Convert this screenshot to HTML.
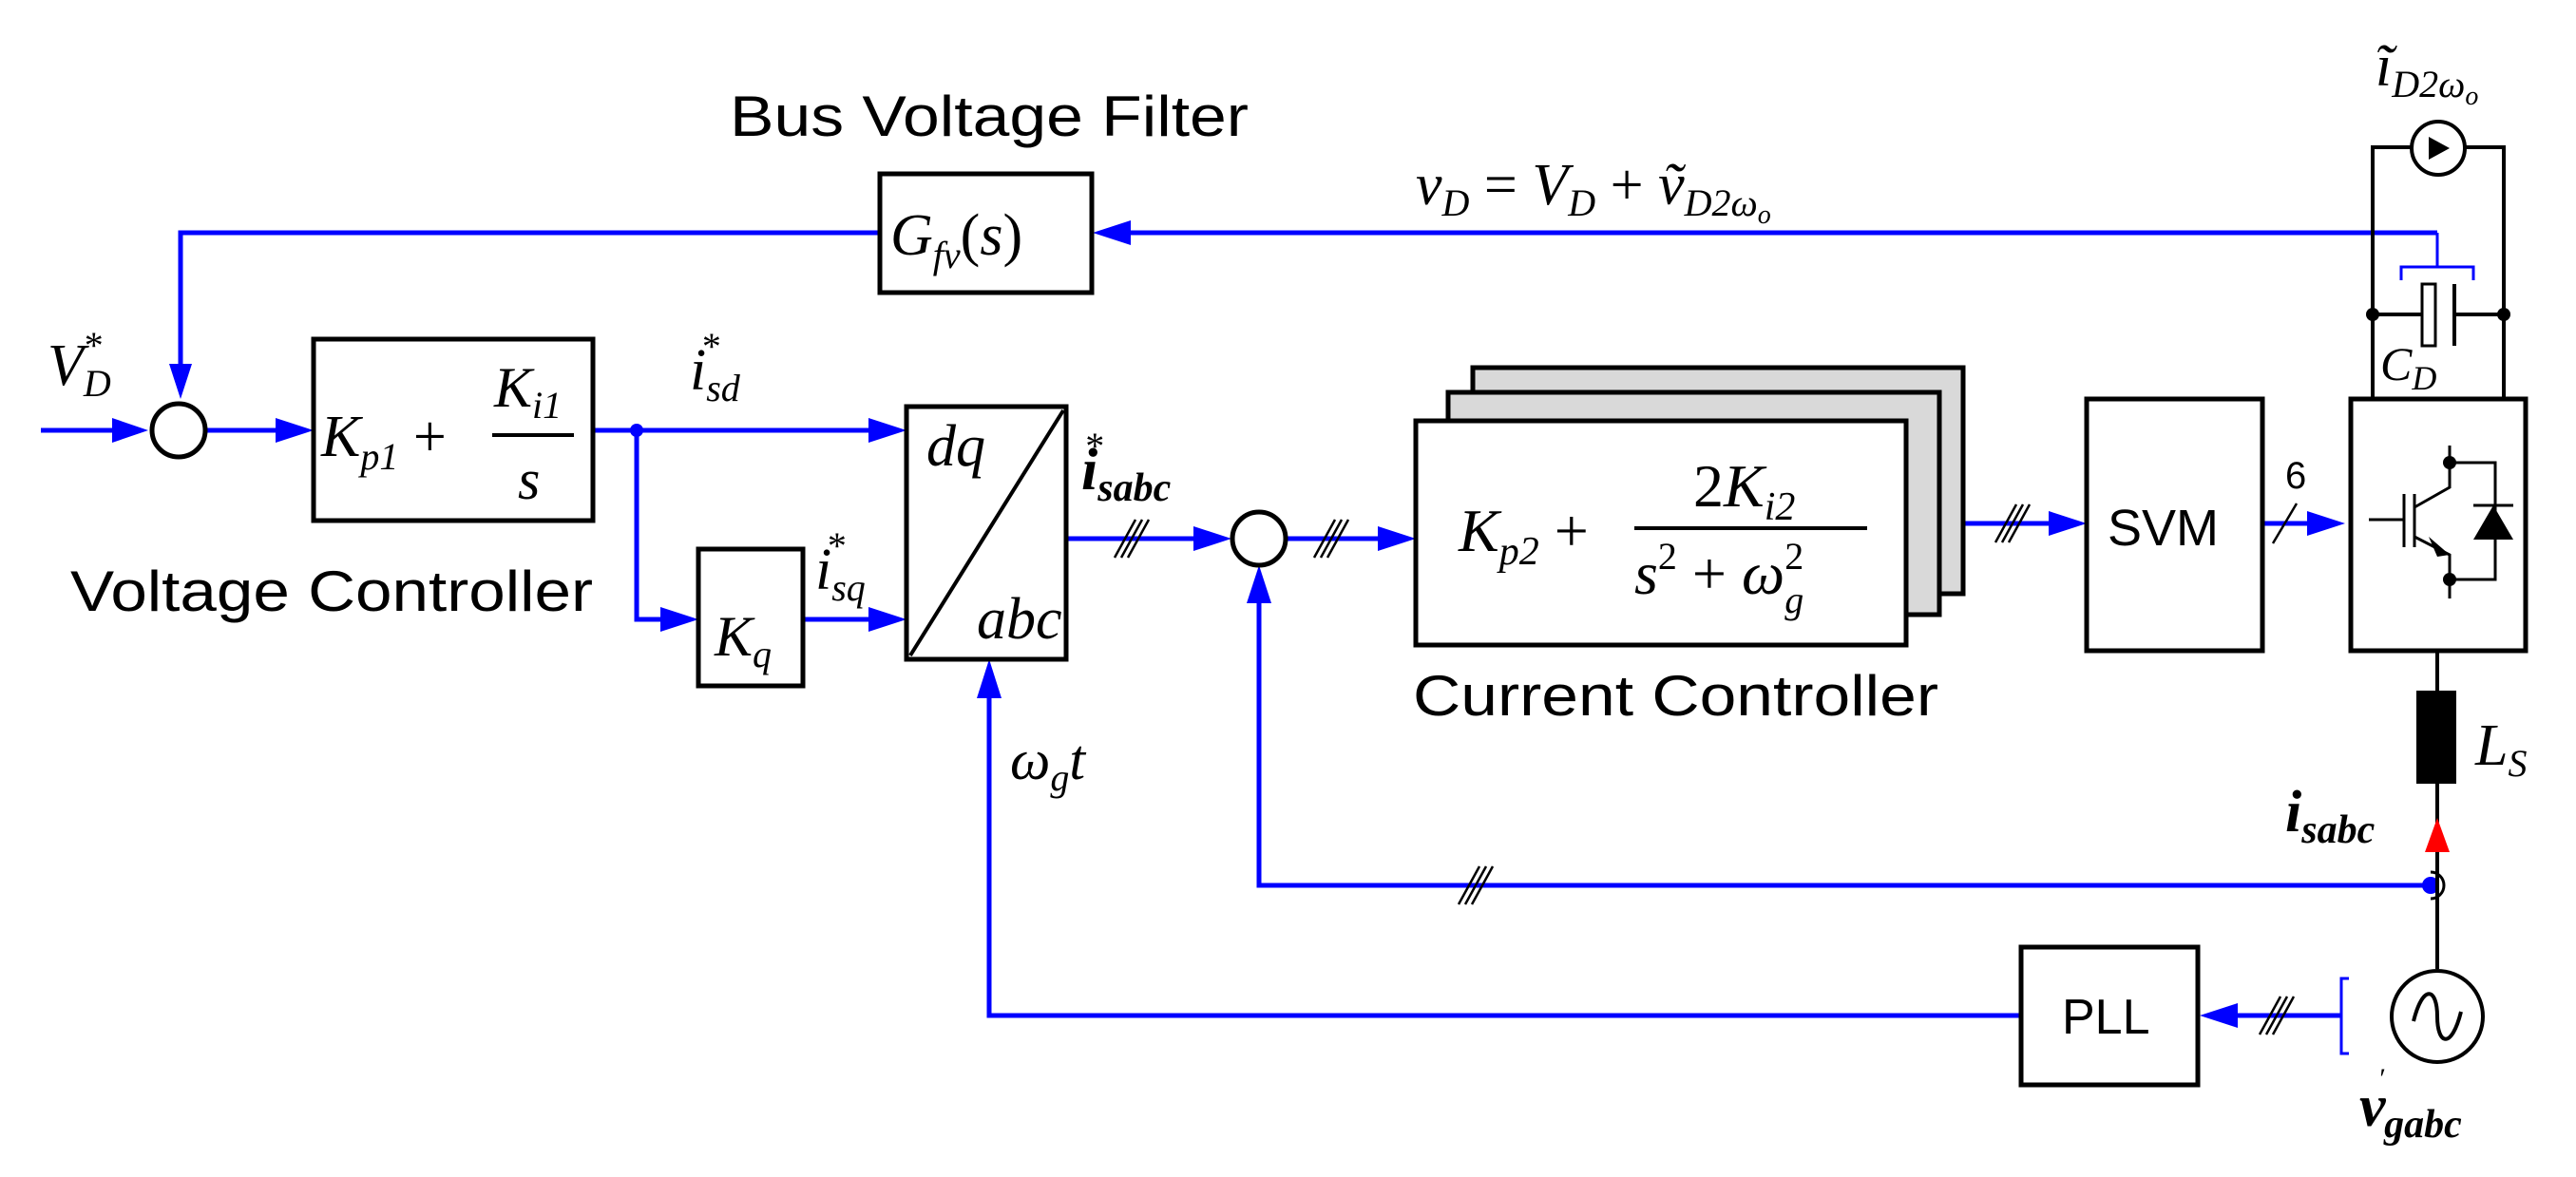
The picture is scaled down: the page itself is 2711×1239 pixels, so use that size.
<!DOCTYPE html>
<html><head><meta charset="utf-8"><style>
html,body{margin:0;padding:0;background:#fff;}
svg{display:block;}
.m{font-family:"Liberation Serif",serif;font-style:italic;fill:#000;}
.s{font-family:"Liberation Sans",sans-serif;fill:#000;}
</style></head><body>
<svg width="2711" height="1239" viewBox="0 0 2711 1239" xmlns="http://www.w3.org/2000/svg">
<defs>
<marker id="a" markerWidth="12" markerHeight="10" refX="11" refY="5" orient="auto" markerUnits="userSpaceOnUse" viewBox="0 0 12 10"></marker>
</defs>
<g fill="none" stroke="#00f" stroke-width="5">
<!-- feedback top -->
<polyline points="2565,245 1190,245"/>
<polyline points="926,245 190,245 190,385"/>
<polyline points="2527,295 2527,281 2603,281 2603,295" stroke-width="3"/>
<line x1="2565" y1="245" x2="2565" y2="281" stroke-width="3"/>
<!-- main -->
<line x1="43" y1="453" x2="120" y2="453"/>
<line x1="217" y1="453" x2="290" y2="453"/>
<line x1="624" y1="453" x2="915" y2="453"/>
<polyline points="670,453 670,652 695,652"/>
<line x1="845" y1="652" x2="915" y2="652"/>
<line x1="1122" y1="567" x2="1256" y2="567"/>
<line x1="1353" y1="567" x2="1450" y2="567"/>
<line x1="2006" y1="551" x2="2156" y2="551"/>
<line x1="2381" y1="551" x2="2430" y2="551"/>
<!-- isabc feedback -->
<polyline points="2558,932 1325,932 1325,635"/>
<!-- PLL -->
<polyline points="2464,1069 2355,1069"/>
<polyline points="2127,1069 1041,1069 1041,735"/>
<polyline points="2472,1030 2464,1030 2464,1109 2472,1109" stroke-width="3"/>
</g>
<g fill="#00f">
<polygon points="190,420 178,383 202,383"/>
<polygon points="156,453 118,440 118,466"/>
<polygon points="330,453 290,440 290,466"/>
<polygon points="954,453 914,440 914,466"/>
<polygon points="735,652 695,639 695,665"/>
<polygon points="954,652 914,639 914,665"/>
<polygon points="1296,567 1256,554 1256,580"/>
<polygon points="1490,567 1450,554 1450,580"/>
<polygon points="2196,551 2156,538 2156,564"/>
<polygon points="2468,551 2428,538 2428,564"/>
<polygon points="1150,245 1190,232 1190,258"/>
<polygon points="1325,595 1312,635 1338,635"/>
<polygon points="1041,694 1028,735 1054,735"/>
<polygon points="2315,1069 2355,1056 2355,1082"/>
<circle cx="670" cy="453" r="7"/>
<circle cx="2558" cy="932" r="9"/>
</g>
<!-- slashes -->
<g stroke="#000" stroke-width="2.5">
<line x1="1173" y1="587" x2="1195" y2="547"/><line x1="1180" y1="587" x2="1202" y2="547"/><line x1="1187" y1="587" x2="1209" y2="547"/>
<line x1="1383" y1="587" x2="1405" y2="547"/><line x1="1390" y1="587" x2="1412" y2="547"/><line x1="1397" y1="587" x2="1419" y2="547"/>
<line x1="2100" y1="571" x2="2122" y2="531"/><line x1="2107" y1="571" x2="2129" y2="531"/><line x1="2114" y1="571" x2="2136" y2="531"/>
<line x1="1535" y1="952" x2="1557" y2="912"/><line x1="1542" y1="952" x2="1564" y2="912"/><line x1="1549" y1="952" x2="1571" y2="912"/>
<line x1="2378" y1="1089" x2="2400" y2="1049"/><line x1="2385" y1="1089" x2="2407" y2="1049"/><line x1="2392" y1="1089" x2="2414" y2="1049"/>
<line x1="2392" y1="572" x2="2417" y2="530"/>
</g>
<!-- boxes -->
<g fill="#fff" stroke="#000" stroke-width="5">
<rect x="926" y="183" width="223" height="125"/>
<rect x="330" y="357" width="294" height="191"/>
<rect x="954" y="428" width="168" height="266"/>
<rect x="735" y="578" width="110" height="144"/>
<rect x="1550" y="387" width="516" height="238" fill="#d9d9d9"/>
<rect x="1524" y="413" width="517" height="234" fill="#d9d9d9"/>
<rect x="1490" y="443" width="516" height="236"/>
<rect x="2196" y="420" width="185" height="265"/>
<rect x="2474" y="420" width="184" height="265"/>
<rect x="2127" y="997" width="186" height="145"/>
<circle cx="188" cy="453" r="28"/>
<circle cx="1325" cy="567" r="28"/>
</g>
<line x1="958" y1="690" x2="1119" y2="432" stroke="#000" stroke-width="4"/>
<!-- circuit -->
<g fill="none" stroke="#000" stroke-width="4">
<polyline points="2497,420 2497,155 2635,155 2635,420"/>
<line x1="2497" y1="331" x2="2549" y2="331"/>
<line x1="2583" y1="331" x2="2635" y2="331"/>
<rect x="2549" y="299" width="14" height="65" stroke-width="3"/>
<line x1="2583" y1="299" x2="2583" y2="364"/>
<line x1="2565" y1="685" x2="2565" y2="1020"/>
<circle cx="2566" cy="156" r="28" fill="#fff"/>
<circle cx="2565" cy="1070" r="48" fill="#fff"/>
<path d="M2540,1075 C2550,1035 2565,1040 2565,1070 C2565,1100 2580,1105 2590,1065"/>
<path d="M2558,918 A14,14 0 0 1 2558,946" stroke-width="3"/>
<!-- igbt -->
<line x1="2493" y1="547" x2="2530" y2="547" stroke-width="3"/>
<line x1="2530" y1="520" x2="2530" y2="576" stroke-width="3"/>
<line x1="2541" y1="520" x2="2541" y2="576" stroke-width="3"/>
<polyline points="2541,534 2578,513 2578,469" stroke-width="3"/>
<polyline points="2541,565 2578,584 2578,630" stroke-width="3"/>
<polyline points="2578,487 2626,487 2626,610 2578,610" stroke-width="3"/>
<line x1="2603" y1="532" x2="2645" y2="532" stroke-width="3"/>
</g>
<g fill="#000">
<polygon points="2556,144 2556,168 2578,156"/>
<circle cx="2497" cy="331" r="7"/><circle cx="2635" cy="331" r="7"/>
<circle cx="2578" cy="487" r="7"/><circle cx="2578" cy="610" r="7"/>
<polygon points="2603,568 2645,568 2624,532"/>
<polygon points="2578,584 2556,565 2565,586"/>
<rect x="2543" y="727" width="42" height="98"/>
</g>
<polygon points="2565,861 2552,897 2578,897" fill="#f00"/>
<!-- text -->
<text class="s" x="768" y="143" font-size="60" textLength="546" lengthAdjust="spacingAndGlyphs">Bus Voltage Filter</text>
<text class="s" x="74" y="643" font-size="60" textLength="550" lengthAdjust="spacingAndGlyphs">Voltage Controller</text>
<text class="s" x="1487" y="753" font-size="60" textLength="553" lengthAdjust="spacingAndGlyphs">Current Controller</text>
<text class="s" x="2218" y="574" font-size="54">SVM</text>
<text class="s" x="2170" y="1088" font-size="52">PLL</text>
<text class="m" x="937" y="268" font-size="62">G<tspan font-size="40" dy="14">fv</tspan><tspan dy="-14" font-style="normal">(</tspan>s<tspan font-style="normal">)</tspan></text>
<text class="m" x="50" y="405" font-size="62">V<tspan font-size="40" dy="12">D</tspan><tspan font-size="40" dx="-28" dy="-40" font-style="normal">*</tspan></text>
<text class="m" x="338" y="480" font-size="62">K<tspan font-size="40" dy="14">p1</tspan><tspan dy="-14" font-style="normal"> + </tspan></text>
<text class="m" x="520" y="428" font-size="60">K<tspan font-size="40" dy="12">i1</tspan></text>
<line x1="518" y1="458" x2="604" y2="458" stroke="#000" stroke-width="4"/>
<text class="m" x="545" y="525" font-size="60">s</text>
<text class="m" x="726" y="410" font-size="62">i<tspan font-size="40" dy="12">sd</tspan><tspan font-size="40" dx="-40" dy="-44" font-style="normal">*</tspan></text>
<text class="m" x="858" y="620" font-size="62">i<tspan font-size="40" dy="12">sq</tspan><tspan font-size="40" dx="-40" dy="-44" font-style="normal">*</tspan></text>
<text class="m" x="752" y="690" font-size="60">K<tspan font-size="40" dy="12">q</tspan></text>
<text class="m" x="975" y="490" font-size="62">dq</text>
<text class="m" x="1028" y="672" font-size="62">abc</text>
<text class="m" x="1138" y="515" font-size="62" font-weight="bold">i<tspan font-size="42" dy="12">sabc</tspan><tspan font-size="40" dx="-90" dy="-44" font-weight="normal" font-style="normal">*</tspan></text>
<text class="m" x="1535" y="580" font-size="64">K<tspan font-size="42" dy="14">p2</tspan><tspan dy="-14" font-style="normal"> + </tspan></text>
<text class="m" x="1782" y="533" font-size="64"><tspan font-style="normal">2</tspan>K<tspan font-size="42" dy="14">i2</tspan></text>
<line x1="1720" y1="556" x2="1965" y2="556" stroke="#000" stroke-width="4"/>
<text class="m" x="1720" y="625" font-size="64">s<tspan font-size="40" dy="-26" font-style="normal">2</tspan><tspan dy="26" font-style="normal"> + </tspan>ω<tspan font-size="40" dy="-26" font-style="normal">2</tspan><tspan font-size="40" dx="-20" dy="46">g</tspan></text>
<text class="m" x="1490" y="215" font-size="62">v<tspan font-size="40" dy="12">D</tspan><tspan dy="-12" font-style="normal"> = </tspan>V<tspan font-size="40" dy="12">D</tspan><tspan dy="-12" font-style="normal"> + </tspan>ṽ<tspan font-size="40" dy="12">D2ω<tspan font-size="28" dy="8">o</tspan></tspan></text>
<text class="m" x="2500" y="90" font-size="62">ĩ<tspan font-size="40" dy="12">D2ω<tspan font-size="28" dy="8">o</tspan></tspan></text>
<text class="m" x="2505" y="400" font-size="50">C<tspan font-size="36" dy="10">D</tspan></text>
<text class="s" x="2405" y="514" font-size="40" font-family="Liberation Serif">6</text>
<text class="m" x="2605" y="805" font-size="62">L<tspan font-size="40" dy="12">S</tspan></text>
<text class="m" x="2405" y="875" font-size="62" font-weight="bold">i<tspan font-size="42" dy="12">sabc</tspan></text>
<text class="m" x="1063" y="820" font-size="60">ω<tspan font-size="40" dy="12">g</tspan><tspan dy="-12">t</tspan></text>
<text class="m" x="2483" y="1185" font-size="62" font-weight="bold">v<tspan font-size="30" dx="-8" dy="-40" font-weight="normal">′</tspan><tspan font-size="42" dy="52">gabc</tspan></text>
</svg>
</body></html>
